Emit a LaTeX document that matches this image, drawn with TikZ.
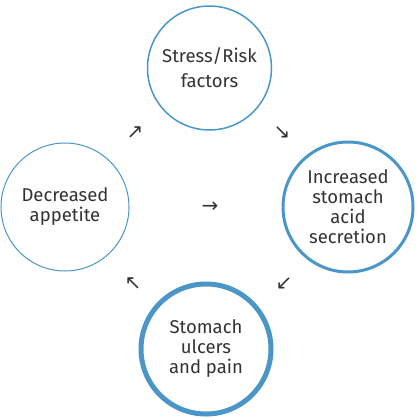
\documentclass[tikz,border=0pt]{standalone}
\usepackage{fontspec}
\setmainfont{Fira Sans}
\newfontfamily\arrowfont{DejaVu Sans}
\definecolor{ringblue}{RGB}{74,150,200}
\definecolor{txtgray}{RGB}{51,51,51}
\begin{document}
\begin{tikzpicture}[x=1pt,y=-1pt,
  ring/.style={circle,draw=ringblue,fill=white,text=txtgray,align=center,
    font=\fontsize{18.5}{20}\selectfont,inner sep=0pt},
  arr/.style={text=txtgray,font=\arrowfont\fontsize{20}{20}\selectfont,inner sep=0pt}]
\useasboundingbox (0,0) rectangle (416,418);
\node[ring,line width=1.5pt,minimum size=124pt,font=\fontsize{18.5}{25}\selectfont] (top) at (209.5,68) {Stress/Risk\\factors};
\node[ring,line width=3pt,minimum size=130pt] (right) at (348,207) {Increased\\stomach\\acid\\secretion};
\node[ring,line width=5pt,minimum size=130pt] (bottom) at (206,349) {Stomach\\ulcers\\and pain};
\node[ring,line width=1pt,minimum size=128pt] (left) at (65,207) {Decreased\\appetite};
\node[arr] (a1) at (135,133) {↗};
\node[arr] (a2) at (282,133) {↘};
\node[arr] (a3) at (284,284) {↙};
\node[arr] (a4) at (133,284) {↖};
\node[arr] (a5) at (210,207) {→};
\end{tikzpicture}
\end{document}
